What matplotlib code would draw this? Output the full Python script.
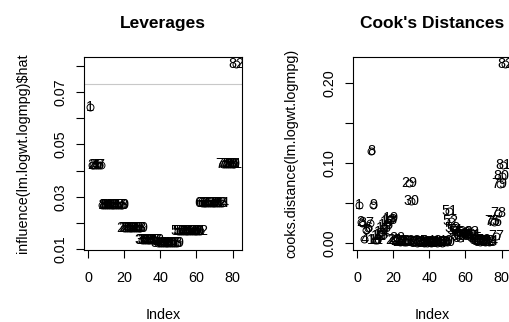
import matplotlib
matplotlib.use("Agg")
import matplotlib.pyplot as plt
import numpy as np

plt.rcParams['font.family'] = ['Liberation Sans', 'DejaVu Sans']

# observation numbers 1..82
index = list(range(1, 83))

# leverages
hat = [0.0643,
       0.0421, 0.0421, 0.0421, 0.0421, 0.0421, 0.0421,
       0.0270, 0.0270, 0.0270, 0.0270, 0.0270, 0.0270, 0.0270, 0.0270, 0.0270, 0.0270, 0.0270, 0.0270,
       0.0181, 0.0181, 0.0181, 0.0181, 0.0181, 0.0181, 0.0181, 0.0181, 0.0181, 0.0181,
       0.0135, 0.0135, 0.0135, 0.0135, 0.0135, 0.0135, 0.0135, 0.0135, 0.0135,
       0.0124, 0.0124, 0.0124, 0.0124, 0.0124, 0.0124, 0.0124, 0.0124, 0.0124, 0.0124, 0.0124,
       0.0169, 0.0169, 0.0169, 0.0169, 0.0169, 0.0169, 0.0169, 0.0169, 0.0169, 0.0169, 0.0169, 0.0169, 0.0169,
       0.0275, 0.0275, 0.0275, 0.0275, 0.0275, 0.0275, 0.0275, 0.0275, 0.0275, 0.0275, 0.0275, 0.0275,
       0.0425, 0.0425, 0.0425, 0.0425, 0.0425, 0.0425, 0.0425,
       0.0806]
hat_cutoff = 0.0732

# Cook's distances
cooks = [0.047, 0.026, 0.025, 0.005, 0.016, 0.019, 0.025, 0.115, 0.047, 0.004,
         0.004, 0.008, 0.010, 0.014, 0.018, 0.022, 0.026, 0.029, 0.031, 0.003,
         0.004, 0.006, 0.002, 0.001, 0.002, 0.001, 0.001, 0.002, 0.075, 0.052,
         0.001, 0.001, 0.000, 0.001, 0.002, 0.001, 0.000, 0.001, 0.000, 0.001,
         0.000, 0.001, 0.002, 0.000, 0.001, 0.001, 0.000, 0.001, 0.002, 0.001,
         0.040, 0.028, 0.019, 0.016, 0.014, 0.008, 0.006, 0.010, 0.012, 0.013,
         0.011, 0.009, 0.013, 0.010, 0.006, 0.004, 0.002, 0.001, 0.002, 0.003,
         0.001, 0.002, 0.001, 0.002, 0.027, 0.026, 0.008, 0.038, 0.074, 0.084,
         0.098, 0.224]

x_ticks = [0, 20, 40, 60, 80]
hat_ticks = [0.01, 0.02, 0.03, 0.04, 0.05, 0.06, 0.07, 0.08]
hat_labels = ['0.01', '', '0.03', '', '0.05', '', '0.07', '']
cook_ticks = [0.00, 0.05, 0.10, 0.15, 0.20]
cook_labels = ['0.00', '', '0.10', '', '0.20']

fs = 10.4  # base text size


def r_range(v):
    # R style axis range: data range padded by 4% on each side
    lo, hi = min(v), max(v)
    d = (hi - lo) * 0.04
    return lo - d, hi + d


def r_panel(ax, y, title, ylabel, yticks, ylabels):
    ax.plot(index, y, 'o', mfc='none', mec='black', ms=5, mew=0.7)
    for i, v in zip(index, y):
        ax.text(i, v, str(i), ha='center', va='center', fontsize=fs, clip_on=True)
    ax.set_xlim(*r_range(index))
    ax.set_ylim(*r_range(y))
    ax.set_xticks(x_ticks)
    ax.set_yticks(yticks)
    ax.set_yticklabels(ylabels, rotation=90, va='center')
    ax.tick_params(direction='out', length=6, width=0.8, labelsize=fs, pad=9)
    ax.tick_params(axis='y', pad=6)
    for s in ax.spines.values():
        s.set_linewidth(0.8)
    ax.set_title(title, fontsize=fs * 1.2, fontweight='bold', pad=21)
    ax.set_xlabel('Index', fontsize=fs, labelpad=17)
    ax.set_ylabel(ylabel, fontsize=fs, labelpad=17)


fig = plt.figure(figsize=(5.09, 3.22), dpi=100)
ax1 = fig.add_axes([0.165, 0.2236, 0.3104, 0.5994])
ax2 = fig.add_axes([0.6935, 0.2236, 0.3104, 0.5994])

r_panel(ax1, hat, 'Leverages', 'influence(lm.logwt.logmpg)$hat', hat_ticks, hat_labels)
ax1.axhline(hat_cutoff, color='#c8c8c8', lw=0.8, zorder=0)

r_panel(ax2, cooks, "Cook's Distances", 'cooks.distance(lm.logwt.logmpg)', cook_ticks, cook_labels)

fig.savefig('out.png', dpi=100)
